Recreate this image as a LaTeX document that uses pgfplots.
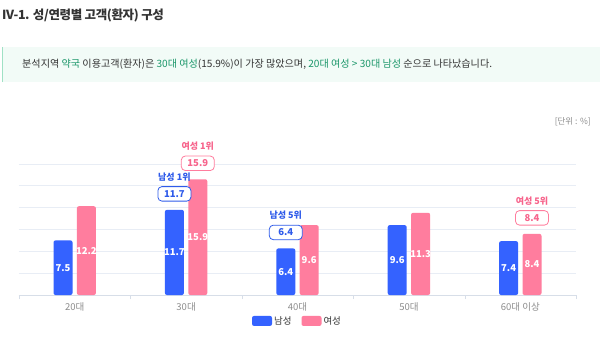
\documentclass[border=0pt]{standalone}
\usepackage{pgfplots}
\pgfplotsset{compat=1.18}
\usepackage{fontspec}
\setmainfont{Noto Sans CJK KR}
\definecolor{cblue}{RGB}{52,98,255}
\definecolor{cpink}{RGB}{255,125,158}
\definecolor{cpinkt}{RGB}{247,100,140}
\definecolor{cbluet}{RGB}{47,91,234}
\definecolor{cgreen}{RGB}{26,150,105}
\definecolor{ctext}{RGB}{51,51,51}
\definecolor{cgrid}{RGB}{232,237,245}
\definecolor{caxis}{RGB}{215,222,232}
\definecolor{cbox}{RGB}{242,251,247}
\definecolor{cboxline}{RGB}{160,225,197}
\definecolor{clabel}{RGB}{140,140,140}
\tikzset{
  valbox/.style={draw, fill=white, rounded corners=4pt, line width=0.8pt, minimum width=33pt, minimum height=14.5pt, inner sep=1pt, font=\fontsize{9.5}{11}\selectfont\bfseries},
  vallab/.style={font=\fontsize{9}{11}\selectfont\bfseries, inner sep=0pt}
}
\begin{document}
\begin{tikzpicture}[x=1pt,y=1pt]
\useasboundingbox[fill=white] (0,0) rectangle (600,341);
\node[anchor=west, font=\fontsize{12.5}{15}\selectfont\bfseries\addfontfeatures{LetterSpace=-3}, text=ctext, inner sep=0] at (2,326) {IV-1. 성/연령별 고객(환자) 구성};
\fill[cbox] (2,259) rectangle (600,294);
\draw[cboxline, line width=1.2pt] (2.6,259) -- (2.6,294);
\node[anchor=west, font=\fontsize{10.1}{12}\selectfont, text=ctext, inner sep=0] at (22,276.5) {분석지역 \textcolor{cgreen}{약국} 이용고객(환자)은 \textcolor{cgreen}{30대 여성}(15.9\%)이 가장 많았으며, \textcolor{cgreen}{20대 여성 > 30대 남성} 순으로 나타났습니다.};
\node[anchor=east, font=\fontsize{8.5}{10}\selectfont, text=clabel, inner sep=0] at (591,219.3) {[단위 : \%]};
\begin{axis}[
  at={(19pt,46pt)}, anchor=south west,
  scale only axis, width=557pt, height=131pt,
  clip=false,
  xmin=-0.5, xmax=4.5, ymin=0, ymax=18,
  ybar, bar width=19pt,
  xtick={0,1,2,3,4},
  xticklabels={20대,30대,40대,50대,60대 이상},
  minor xtick={-0.5,0.5,1.5,2.5,3.5,4.5},
  major x tick style={draw=none},
  minor x tick style={draw=caxis},
  minor tick length=4pt,
  xtick align=outside,
  xtick pos=bottom,
  ytick={0,3,6,9,12,15,18},
  yticklabels={},
  ytick style={draw=none},
  ymajorgrids, grid style={draw=cgrid, line width=0.8pt},
  axis lines*=left,
  y axis line style={draw=none},
  x axis line style={draw=caxis, line width=0.8pt},
  xticklabel style={font=\fontsize{9.5}{11}\selectfont, text=clabel},
  /pgf/number format/assume math mode=true,
  legend style={at={(0.5,-0.198)}, anchor=center, draw=none, fill=none, legend columns=2,
    font=\fontsize{9.5}{11}\selectfont, text=ctext,
    /tikz/every even column/.append style={column sep=8pt}},
  legend image code/.code={\fill[#1, rounded corners=2pt] (0pt,-5pt) rectangle (20pt,5pt);},
  nodes near coords,
  visualization depends on={y \as \myy},
  every node near coord/.append style={anchor=center, yshift={-3.6389*\myy}, text=white, font=\fontsize{9.5}{11}\selectfont\bfseries},
]
\addplot[fill=cblue, draw=none, bar shift=-11.7pt, rounded corners=2pt] coordinates {(0,7.5) (1,11.7) (2,6.4) (3,9.6) (4,7.4)};
\addlegendentry{남성}
\addplot[fill=cpink, draw=none, bar shift=11.7pt, rounded corners=2pt] coordinates {(0,12.2) (1,15.9) (2,9.6) (3,11.3) (4,8.4)};
\addlegendentry{여성}
\node[valbox, draw=cpink, text=cpinkt] at ([xshift=11.7pt, yshift=16pt]axis cs:1,15.9) {15.9};
\node[vallab, text=cpinkt] at ([xshift=11.7pt, yshift=33pt]axis cs:1,15.9) {여성 1위};
\node[valbox, draw=cbluet, text=cbluet] at ([xshift=-11.7pt, yshift=16pt]axis cs:1,11.7) {11.7};
\node[vallab, text=cbluet] at ([xshift=-11.7pt, yshift=33pt]axis cs:1,11.7) {남성 1위};
\node[valbox, draw=cbluet, text=cbluet] at ([xshift=-11.7pt, yshift=16pt]axis cs:2,6.4) {6.4};
\node[vallab, text=cbluet] at ([xshift=-11.7pt, yshift=33pt]axis cs:2,6.4) {남성 5위};
\node[valbox, draw=cpink, text=cpinkt] at ([xshift=11.7pt, yshift=16pt]axis cs:4,8.4) {8.4};
\node[vallab, text=cpinkt] at ([xshift=11.7pt, yshift=33pt]axis cs:4,8.4) {여성 5위};
\end{axis}
\end{tikzpicture}
\end{document}
